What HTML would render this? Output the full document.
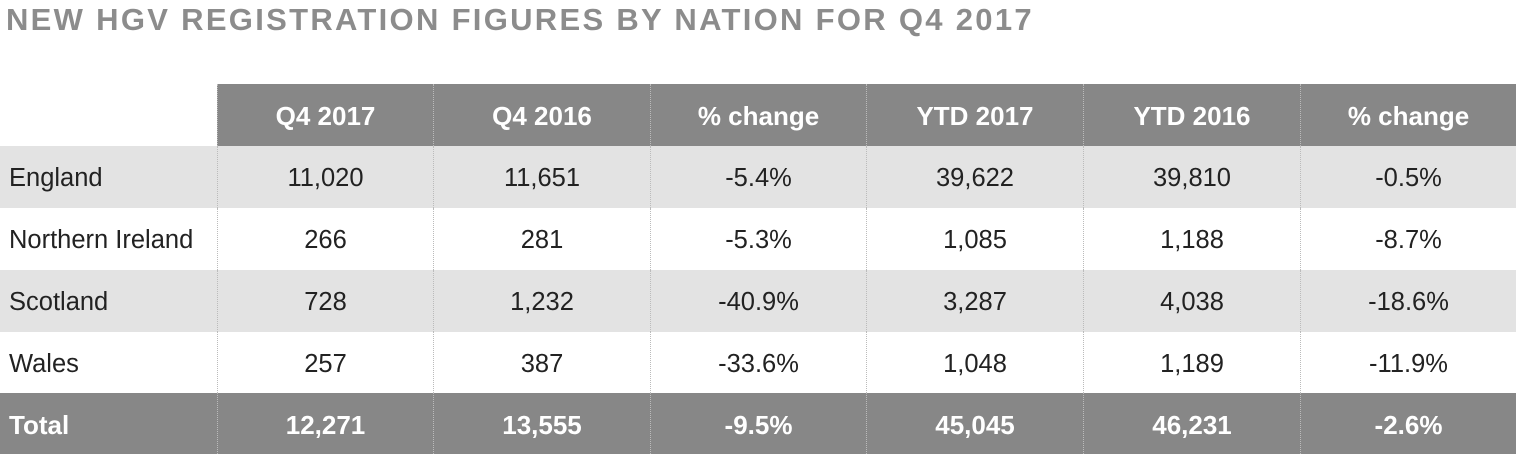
<!DOCTYPE html>
<html><head><style>
body{margin:0;width:1516px;height:454px;background:#fff;overflow:hidden;font-family:"Liberation Sans",sans-serif;position:relative}
.t{position:absolute;left:6px;top:2px;font-size:31px;font-weight:bold;color:#8c8c8c;letter-spacing:2.3px;white-space:nowrap}
.c{position:absolute;display:flex;align-items:center;justify-content:center;font-size:25.5px;color:#222;box-sizing:border-box;padding-top:3px}
.l{justify-content:flex-start;padding-left:9px}
.h{background:#878787;color:#fff;font-weight:bold;font-size:26px}
.s{background:#e3e3e3}
.bd{border-left:1px dotted #bbb}
</style></head><body>
<div class="t">NEW HGV REGISTRATION FIGURES BY NATION FOR Q4 2017</div>
<div id="g"></div>
<script>
const xs=[0,217,433,650,866,1083,1300,1516];
const ys=[84,146,208,270,332,393,454];
const rows=[
["","Q4 2017","Q4 2016","% change","YTD 2017","YTD 2016","% change"],
["England","11,020","11,651","-5.4%","39,622","39,810","-0.5%"],
["Northern Ireland","266","281","-5.3%","1,085","1,188","-8.7%"],
["Scotland","728","1,232","-40.9%","3,287","4,038","-18.6%"],
["Wales","257","387","-33.6%","1,048","1,189","-11.9%"],
["Total","12,271","13,555","-9.5%","45,045","46,231","-2.6%"]];
let h="";
rows.forEach((r,i)=>{r.forEach((v,j)=>{
 if(i==0&&j==0)return;
 let cls="c";
 if(i==0||i==5)cls+=" h";else if(i%2==1)cls+=" s";
 if(j==0)cls+=" l";else cls+=" bd";
 h+=`<div class="${cls}" style="left:${xs[j]}px;top:${ys[i]}px;width:${xs[j+1]-xs[j]}px;height:${ys[i+1]-ys[i]}px">${v}</div>`;
});});
document.getElementById("g").innerHTML=h;
</script>
</body></html>
